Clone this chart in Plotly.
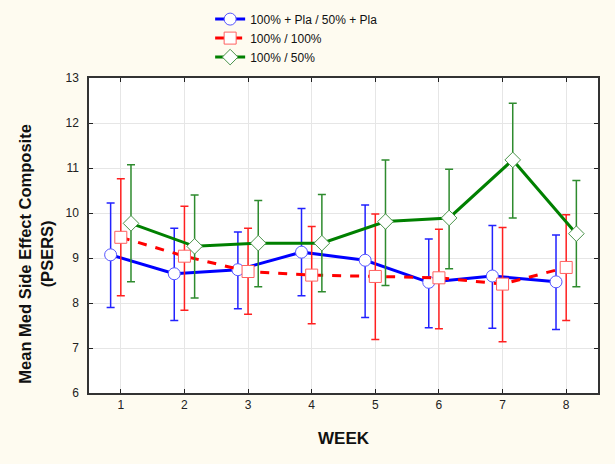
import plotly.graph_objects as go
import numpy as np

weeks = [1, 2, 3, 4, 5, 6, 7, 8]
series_names = ["100% + Pla / 50% + Pla", "100% / 100%", "100% / 50%"]

blue_mean = [9.07, 8.65, 8.74, 9.13, 8.95, 8.46, 8.60, 8.47]
blue_upper = [10.22, 9.66, 9.58, 10.10, 10.18, 9.42, 9.72, 9.51]
blue_lower = [7.90, 7.61, 7.87, 8.16, 7.68, 7.45, 7.44, 7.41]

red_mean = [9.46, 9.04, 8.70, 8.62, 8.59, 8.56, 8.42, 8.79]
red_upper = [10.76, 10.15, 9.66, 9.70, 9.98, 9.64, 9.68, 9.96]
red_lower = [8.16, 7.84, 7.75, 7.54, 7.19, 7.43, 7.14, 7.61]

green_mean = [9.77, 9.26, 9.33, 9.33, 9.81, 9.89, 11.18, 9.54]
green_upper = [11.07, 10.40, 10.28, 10.41, 11.18, 10.97, 12.44, 10.72]
green_lower = [8.47, 8.11, 8.36, 8.25, 8.39, 8.76, 9.89, 8.36]

y_ticks = [6, 7, 8, 9, 10, 11, 12, 13]
y_title = "<b>Mean Med Side Effect Composite<br>(PSERS)</b>"

styles = [
    dict(mean=blue_mean, up=blue_upper, lo=blue_lower, shift=-0.16, line="#0000ff",
         dash="solid", err="#2222ff", marker="circle", mline="#5555ff"),
    dict(mean=red_mean, up=red_upper, lo=red_lower, shift=0.0, line="#ff0000",
         dash="dash", err="#ff2020", marker="square", mline="#ff6060"),
    dict(mean=green_mean, up=green_upper, lo=green_lower, shift=0.16, line="#008000",
         dash="solid", err="#2e8b2e", marker="diamond", mline="#4a934a"),
]

fig = go.Figure()
for name, s in zip(series_names, styles):
    m = np.array(s["mean"])
    fig.add_trace(go.Scatter(
        x=np.array(weeks) + s["shift"], y=m, name=name, mode="lines+markers",
        line=dict(color=s["line"], width=3, dash=s["dash"]),
        marker=dict(symbol=s["marker"], size=12, color="white",
                    line=dict(color=s["mline"], width=1)),
        error_y=dict(type="data", symmetric=False,
                     array=np.array(s["up"]) - m, arrayminus=m - np.array(s["lo"]),
                     color=s["err"], thickness=1.5, width=4),
    ))

axis_common = dict(showline=True, linecolor="#333333", linewidth=1.5, mirror="ticks",
                   ticks="inside", ticklen=4, tickcolor="#222222",
                   showgrid=True, gridcolor="#e6e6e6", gridwidth=1, zeroline=False,
                   tickfont=dict(family="Arial, Liberation Sans", size=12, color="#222222"))

fig.update_layout(
    width=615, height=464,
    paper_bgcolor="#fefbf0", plot_bgcolor="white",
    margin=dict(l=89, r=17, t=78, b=71, autoexpand=False),
    showlegend=True,
    legend=dict(x=0.238, y=1.233, xanchor="left", yanchor="top", bgcolor="rgba(0,0,0,0)",
                font=dict(family="Arial, Liberation Sans", size=12, color="#111111"),
                tracegroupgap=0, itemwidth=30),
    xaxis=dict(range=[0.5, 8.5], tickvals=weeks, **axis_common,
               title=dict(text="<b>WEEK</b>", standoff=21,
                          font=dict(family="Arial, Liberation Sans", size=17, color="#111111"))),
    yaxis=dict(range=[6, 13], tickvals=y_ticks, ticklabelstandoff=6, **axis_common),
    annotations=[dict(text=y_title, textangle=-90, xref="paper", yref="paper",
                      x=-0.105, y=0.441, xanchor="center", yanchor="middle", showarrow=False,
                      font=dict(family="Arial, Liberation Sans", size=16.5, color="#111111"))],
)

fig.write_html("out.html", config={"displayModeBar": False},
               post_script="document.body.style.margin='0';document.body.style.background='#fefbf0';")
